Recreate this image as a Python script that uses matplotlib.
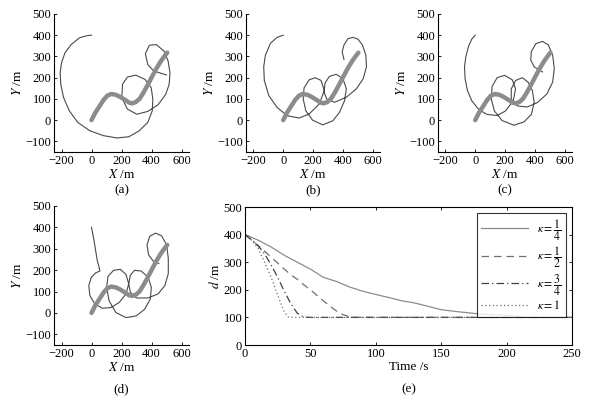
import matplotlib
matplotlib.use("Agg")
import matplotlib.pyplot as plt

plt.rcParams['font.family'] = ['Liberation Serif', 'DejaVu Serif']
plt.rcParams['mathtext.fontset'] = 'stix'
plt.rcParams['font.size'] = 9

# ---- target path (thick grey) ----
target_x = [0, 25, 50, 80, 105, 130, 160, 190, 220, 250, 270, 295, 320, 345, 370, 400, 430, 460, 485, 505]
target_y = [0, 35, 62, 95, 115, 123, 120, 110, 97, 83, 79, 85, 100, 128, 160, 200, 240, 275, 300, 318]

# ---- chaser paths (thin dark) ----
a_x = [0, -30, -80, -136, -177, -200, -209, -205, -186, -148, -91, -11, 80, 170, 250, 318, 375, 405, 409, 398,
       357, 295, 239, 207, 202, 239, 302, 375, 443, 495, 518, 523, 511, 484, 432, 386, 359, 375, 416, 500]
a_y = [400, 398, 388, 356, 317, 270, 223, 169, 106, 44, -11, -50, -73, -84, -78, -50, -11, 44, 98, 153,
       192, 212, 203, 169, 106, 52, 28, 41, 72, 122, 169, 223, 278, 325, 356, 353, 313, 262, 231, 213]

b_x = [0, -41, -86, -120, -131, -127, -97, -41, 27, 106, 174, 242, 276, 254, 215, 174, 140, 134, 152, 197,
       265, 333, 378, 412, 424, 401, 356, 310, 281, 274, 292, 344, 424, 492, 537, 559, 555, 532, 503, 469,
       435, 408, 396, 408]
b_y = [400, 390, 362, 305, 251, 187, 116, 60, 21, 10, 29, 76, 140, 187, 200, 190, 152, 100, 44, 0,
       -22, -3, 37, 92, 148, 195, 216, 206, 175, 132, 100, 84, 108, 148, 195, 251, 306, 354, 381, 390,
       384, 354, 322, 286]

c_x = [0, -23, -45, -63, -72, -68, -52, -23, 23, 79, 147, 203, 255, 271, 249, 197, 147, 113, 108, 129,
       181, 260, 328, 377, 396, 384, 355, 316, 271, 242, 242, 283, 350, 418, 481, 520, 531, 520, 490, 452,
       407, 377, 373, 396, 452]
c_y = [400, 382, 347, 299, 251, 195, 139, 91, 51, 27, 22, 43, 91, 147, 190, 211, 200, 158, 99, 43,
       -2, -24, -8, 27, 83, 139, 179, 200, 187, 147, 99, 67, 62, 83, 123, 179, 243, 307, 355, 371,
       360, 323, 283, 251, 227]

d_x = [0, 16, 27, 38, 50, 56, 27, -2, -18, -11, 20, 72, 129, 185, 230, 248, 230, 192, 147, 110,
       101, 117, 162, 230, 298, 354, 392, 399, 377, 331, 286, 259, 248, 259, 298, 377, 444, 489, 512, 512,
       501, 467, 426, 388, 370, 381, 410, 449]
d_y = [400, 342, 294, 247, 215, 196, 187, 165, 128, 81, 44, 22, 25, 49, 89, 136, 180, 204, 199, 171,
       120, 57, 2, -22, -14, 17, 65, 120, 168, 196, 199, 176, 136, 97, 70, 70, 89, 128, 184, 255,
       318, 361, 373, 358, 318, 271, 244, 231]

# ---- distance curves (e) ----
t1 = [0, 10, 20, 30, 40, 50, 60, 70, 80, 90, 100, 110, 120, 130, 140, 150, 160, 170, 180, 190, 200, 210, 220, 250]
d1 = [400, 380, 355, 325, 300, 275, 245, 230, 210, 195, 183, 172, 160, 152, 140, 128, 122, 117, 112, 110, 107, 103, 100, 100]
t2 = [0, 5, 10, 15, 20, 25, 30, 35, 40, 45, 50, 55, 60, 65, 70, 75, 80, 85, 250]
d2 = [400, 380, 360, 340, 318, 297, 275, 255, 238, 218, 200, 180, 160, 140, 123, 110, 102, 100, 100]
t3 = [0, 5, 10, 15, 20, 25, 30, 35, 40, 45, 50, 250]
d3 = [400, 382, 360, 330, 290, 245, 195, 150, 115, 101, 100, 100]
t4 = [0, 5, 10, 15, 20, 25, 30, 33, 35, 250]
d4 = [400, 380, 350, 300, 245, 180, 120, 102, 100, 100]

labels_e = [r'$\kappa=\dfrac{1}{4}$', r'$\kappa=\dfrac{1}{2}$', r'$\kappa=\dfrac{3}{4}$', r'$\kappa=1$']
captions = ['(a)', '(b)', '(c)', '(d)']

W, H = 591, 398
fig = plt.figure(figsize=(W / 100, H / 100), dpi=100)

def rect(l, r, t, b):
    return [l / W, 1 - b / H, (r - l) / W, (b - t) / H]

traj_rects = [rect(54, 189, 14, 152), rect(246, 380, 14, 152), rect(438, 572, 14, 152), rect(54, 189, 206, 345)]
paths = [(a_x, a_y), (b_x, b_y), (c_x, c_y), (d_x, d_y)]
cap_y = [190, 190, 190, 389]

for r, (px, py), cap, cy in zip(traj_rects, paths, captions, cap_y):
    ax = fig.add_axes(r)
    ax.plot(px, py, color='#4a4a4a', lw=0.8)
    ax.plot(target_x, target_y, color='#8c8c8c', lw=3.2, solid_capstyle='round', solid_joinstyle='round')
    ax.set_xlim(-250, 650)
    ax.set_ylim(-150, 500)
    ax.set_xticks([-200, 0, 200, 400, 600])
    ax.set_yticks([-100, 0, 100, 200, 300, 400, 500])
    for s in ['top', 'right']:
        ax.spines[s].set_visible(False)
    for s in ['left', 'bottom']:
        ax.spines[s].set_linewidth(0.8)
    ax.tick_params(direction='in', length=2.5, width=0.6, labelsize=9, pad=2)
    ax.set_xlabel(r'$X$ /m', fontsize=9.5, labelpad=1)
    ax.set_ylabel(r'$Y$ /m', fontsize=9.5, labelpad=1)
    fig.text((r[0] + r[2] / 2), 1 - cy / H, cap, ha='center', va='center', fontsize=9.5)

re = rect(245, 572, 207, 345)
ax = fig.add_axes(re)
ax.plot(t1, d1, color='#8c8c8c', lw=0.9, ls='-', label=labels_e[0])
ax.plot(t2, d2, color='#707070', lw=0.9, ls=(0, (6, 4)), label=labels_e[1])
ax.plot(t3, d3, color='#404040', lw=0.9, ls=(0, (6, 2.5, 1, 2.5)), label=labels_e[2])
ax.plot(t4, d4, color='#707070', lw=0.9, ls=(0, (1, 2)), label=labels_e[3])
ax.set_xlim(0, 250)
ax.set_ylim(0, 500)
ax.set_xticks([0, 50, 100, 150, 200, 250])
ax.set_yticks([0, 100, 200, 300, 400, 500])
ax.tick_params(direction='in', length=2.5, width=0.6, labelsize=9, pad=2, top=True, right=True)
for s in ax.spines.values():
    s.set_linewidth(0.8)
ax.set_xlabel('Time /s', fontsize=9.5, labelpad=1)
ax.set_ylabel(r'$d$ /m', fontsize=9.5, labelpad=1)
leg = ax.legend(loc='upper right', fontsize=8.5, frameon=True, fancybox=False, handlelength=4.0,
                borderpad=0.35, labelspacing=0.15, handletextpad=0.8, borderaxespad=0.5)
leg.get_frame().set_edgecolor('black')
leg.get_frame().set_linewidth(0.8)
fig.text(re[0] + re[2] / 2, 1 - 389 / H, '(e)', ha='center', va='center', fontsize=9.5)

fig.savefig('out.png', dpi=100)
